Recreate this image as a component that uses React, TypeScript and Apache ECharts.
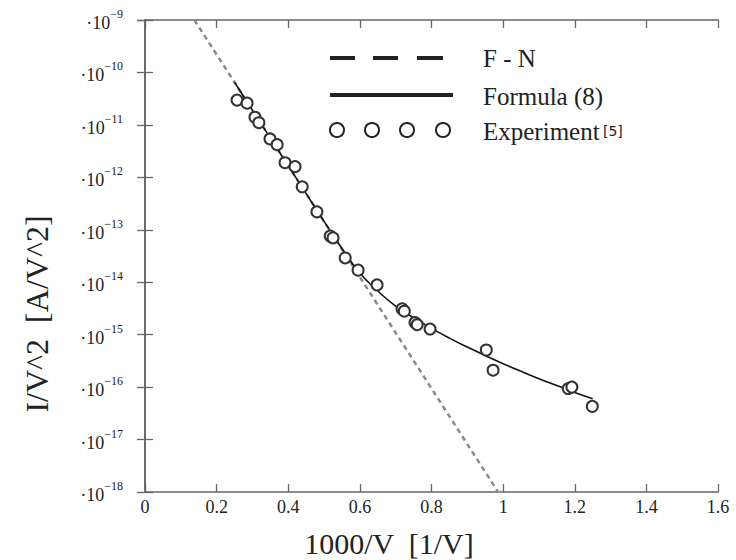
import React, { useEffect, useRef } from "react";
import * as echarts from "echarts";

// F-N line (straight in log scale)
const fnX = [0.138, 0.986];
const fnY = [1e-9, 1e-18];

// Formula (8) curve, read every 0.05
const fmX = [0.25, 0.3, 0.35, 0.4, 0.45, 0.5, 0.55, 0.6, 0.65, 0.7, 0.75, 0.8, 0.85, 0.9, 0.95, 1.0, 1.05, 1.1, 1.15, 1.2, 1.25];
const fmY = [6.5e-11, 1.9e-11, 5.6e-12, 1.66e-12, 4.9e-13, 1.45e-13, 4.4e-14, 1.5e-14, 6.8e-15, 3.5e-15, 2.1e-15, 1.32e-15, 8.6e-16, 5.8e-16, 4.0e-16, 2.8e-16, 2.0e-16, 1.45e-16, 1.07e-16, 7.9e-17, 6.0e-17];

// Experiment [5]
const exX = [0.257, 0.285, 0.307, 0.318, 0.349, 0.369, 0.391, 0.419, 0.439, 0.48, 0.517, 0.525, 0.559, 0.595, 0.648, 0.718, 0.724, 0.754, 0.76, 0.796, 0.953, 0.972, 1.182, 1.192, 1.249];
const exY = [2.97e-11, 2.6e-11, 1.4e-11, 1.1e-11, 5.4e-12, 4.2e-12, 1.9e-12, 1.6e-12, 6.6e-13, 2.2e-13, 7.6e-14, 7.0e-14, 2.9e-14, 1.7e-14, 8.9e-15, 3.1e-15, 2.8e-15, 1.7e-15, 1.55e-15, 1.28e-15, 5.1e-16, 2.1e-16, 9.4e-17, 1.0e-16, 4.3e-17];

const xMin = 0;
const xMax = 1.6;
const xInterval = 0.2;
const yMin = 1e-18;
const yMax = 1e-9;

const SERIF = "Liberation Serif";
const AXIS_COLOR = "#666";
const TEXT_COLOR = "#222";

export default function App() {
  const ref = useRef<HTMLDivElement>(null);
  useEffect(() => {
    if (!ref.current) return;
    const chart = echarts.init(ref.current, null, { renderer: "svg" });
    const pair = (xs: number[], ys: number[]) => xs.map((x, i) => [x, ys[i]]);
    const yLabel = (v: number) => {
      const e = Math.round(Math.log10(v));
      return `{a|·10}{b|${String(e).replace("-", "−")}}`;
    };
    chart.setOption({
      animation: false,
      grid: { left: 145, right: 18, top: 20, bottom: 68 },
      xAxis: [
        {
          type: "value",
          min: xMin,
          max: xMax,
          interval: xInterval,
          axisLine: { show: true, lineStyle: { color: AXIS_COLOR, width: 1.6 } },
          axisTick: { show: true, inside: true, length: 8, lineStyle: { color: AXIS_COLOR, width: 1.3 } },
          splitLine: { show: false },
          axisLabel: { show: true, margin: 6, color: TEXT_COLOR, fontFamily: SERIF, fontSize: 18 },
        },
        {
          type: "value",
          min: xMin,
          max: xMax,
          interval: xInterval,
          position: "top",
          axisLine: { show: true, lineStyle: { color: AXIS_COLOR, width: 1.6 } },
          axisTick: { show: true, inside: true, length: 8, lineStyle: { color: AXIS_COLOR, width: 1.3 } },
          splitLine: { show: false },
          axisLabel: { show: false },
        },
      ],
      yAxis: [
        {
          type: "log",
          logBase: 10,
          min: yMin,
          max: yMax,
          interval: 1,
          axisLine: { show: true, lineStyle: { color: AXIS_COLOR, width: 1.6 } },
          axisTick: { show: true, inside: true, length: 8, lineStyle: { color: AXIS_COLOR, width: 1.3 } },
          splitLine: { show: false },
          axisLabel: {
            show: true,
            margin: 22,
            formatter: yLabel,
            rich: {
              a: { fontFamily: SERIF, fontSize: 18, color: TEXT_COLOR, lineHeight: 24, verticalAlign: "bottom" },
              b: { fontFamily: SERIF, fontSize: 12, color: TEXT_COLOR, lineHeight: 24, verticalAlign: "top" },
            },
          },
        },
        {
          type: "log",
          logBase: 10,
          min: yMin,
          max: yMax,
          interval: 1,
          position: "right",
          axisLine: { show: true, lineStyle: { color: AXIS_COLOR, width: 1.6 } },
          axisTick: { show: true, inside: true, length: 8, lineStyle: { color: AXIS_COLOR, width: 1.3 } },
          splitLine: { show: false },
          axisLabel: { show: false },
        },
      ],
      series: [
        {
          name: "F - N",
          type: "line",
          data: pair(fnX, fnY),
          symbol: "none",
          lineStyle: { color: "#8a8a8a", width: 2.5, type: [5, 4] },
          z: 2,
        },
        {
          name: "Formula (8)",
          type: "line",
          data: pair(fmX, fmY),
          smooth: 0.5,
          symbol: "none",
          lineStyle: { color: "#111", width: 1.6 },
          z: 3,
        },
        {
          name: "Experiment [5]",
          type: "scatter",
          data: pair(exX, exY),
          symbol: "circle",
          symbolSize: 11,
          itemStyle: { color: "#ffffff", borderColor: "#333", borderWidth: 2, opacity: 1 },
          z: 4,
        },
      ],
      graphic: [
        // legend
        { type: "line", shape: { x1: 330, y1: 58, x2: 355, y2: 58 }, style: { stroke: "#222", lineWidth: 4 } },
        { type: "line", shape: { x1: 373, y1: 58, x2: 398, y2: 58 }, style: { stroke: "#222", lineWidth: 4 } },
        { type: "line", shape: { x1: 417, y1: 58, x2: 443, y2: 58 }, style: { stroke: "#222", lineWidth: 4 } },
        { type: "line", shape: { x1: 330, y1: 95, x2: 453, y2: 95 }, style: { stroke: "#222", lineWidth: 4 } },
        { type: "circle", shape: { cx: 337, cy: 130, r: 7 }, style: { fill: "#fff", stroke: "#222", lineWidth: 2 } },
        { type: "circle", shape: { cx: 372, cy: 130, r: 7 }, style: { fill: "#fff", stroke: "#222", lineWidth: 2 } },
        { type: "circle", shape: { cx: 407, cy: 130, r: 7 }, style: { fill: "#fff", stroke: "#222", lineWidth: 2 } },
        { type: "circle", shape: { cx: 443, cy: 130, r: 7 }, style: { fill: "#fff", stroke: "#222", lineWidth: 2 } },
        {
          type: "text",
          x: 483,
          y: 58,
          style: { text: "F - N", font: `25px ${SERIF}`, fill: TEXT_COLOR, textVerticalAlign: "middle" },
        },
        {
          type: "text",
          x: 483,
          y: 96,
          style: { text: "Formula (8)", font: `25px ${SERIF}`, fill: TEXT_COLOR, textVerticalAlign: "middle" },
        },
        {
          type: "text",
          x: 483,
          y: 131,
          style: {
            text: "{a|Experiment} {b|[5]}",
            fill: TEXT_COLOR,
            textVerticalAlign: "middle",
            rich: {
              a: { fontFamily: SERIF, fontSize: 25, fill: TEXT_COLOR, lineHeight: 28 },
              b: { fontFamily: "DejaVu Sans", fontSize: 14, fill: TEXT_COLOR, lineHeight: 28 },
            },
          },
        },
        // axis titles
        {
          type: "text",
          x: 389,
          y: 543,
          style: {
            text: "1000/V  [1/V]",
            font: `30px ${SERIF}`,
            fill: TEXT_COLOR,
            textAlign: "center",
            textVerticalAlign: "middle",
          },
        },
        {
          type: "text",
          x: 37,
          y: 314,
          rotation: Math.PI / 2,
          style: {
            text: "I/V^2  [A/V^2]",
            font: `32px ${SERIF}`,
            fill: TEXT_COLOR,
            textAlign: "center",
            textVerticalAlign: "middle",
          },
        },
      ],
    });
    return () => chart.dispose();
  }, []);
  return <div ref={ref} style={{ position: "absolute", left: 0, top: 0, width: 736, height: 560 }} />;
}
